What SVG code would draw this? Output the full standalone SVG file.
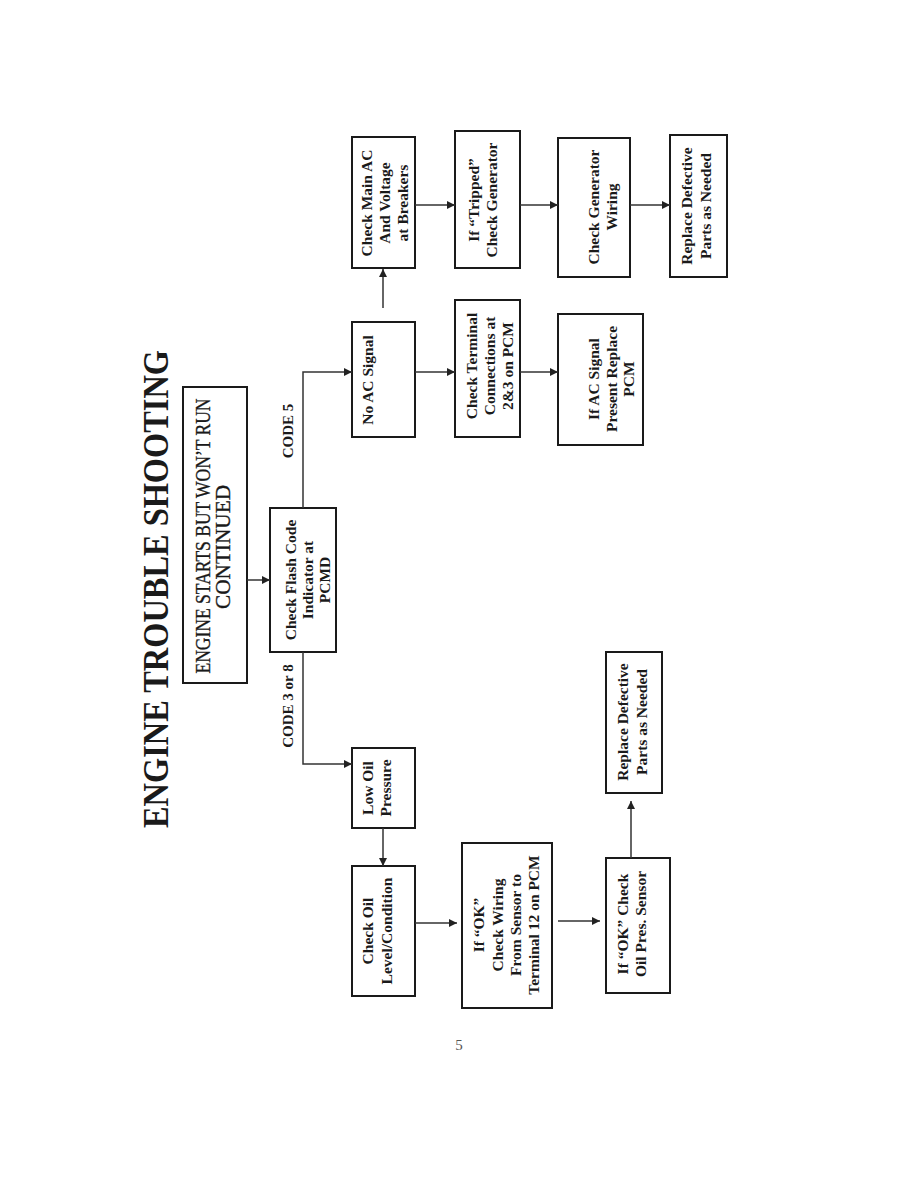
<svg xmlns="http://www.w3.org/2000/svg" width="918" height="1188" viewBox="0 0 918 1188">
<style>
.box{fill:none;stroke:#1a1a1a;stroke-width:2}
.t{font-family:"Liberation Serif","Times New Roman",serif;font-weight:bold;font-size:15.5px;fill:#1a1a1a;text-anchor:middle;dominant-baseline:central}
.lbl{font-family:"Liberation Serif","Times New Roman",serif;font-weight:bold;font-size:15px;fill:#1a1a1a;text-anchor:middle;dominant-baseline:central}
.c{fill:none;stroke:#333;stroke-width:1.5}
</style>
<defs>
<marker id="ah" viewBox="0 0 10 10" refX="10" refY="5" markerWidth="9" markerHeight="8" markerUnits="userSpaceOnUse" orient="auto">
<path d="M0,0 L10,5 L0,10 z" fill="#222"/>
</marker>
</defs>
<rect width="918" height="1188" fill="#fff"/>

<g id="title">
<text transform="translate(156,589) rotate(-90)" text-anchor="middle" dominant-baseline="central" font-family="Liberation Serif,Times New Roman,serif" font-weight="bold" font-size="35" fill="#1a1a1a" textLength="478" lengthAdjust="spacingAndGlyphs">ENGINE TROUBLE SHOOTING</text>
</g>

<g id="n-start">
<rect class="box" x="183" y="387" width="64" height="296"/>
<text transform="translate(202,536) rotate(-90)" text-anchor="middle" dominant-baseline="central" font-family="Liberation Serif,Times New Roman,serif" font-size="22" fill="#1a1a1a" stroke="#1a1a1a" stroke-width="0.35" textLength="275" lengthAdjust="spacingAndGlyphs">ENGINE STARTS BUT WON’T RUN</text>
<text transform="translate(222,547) rotate(-90)" text-anchor="middle" dominant-baseline="central" font-family="Liberation Serif,Times New Roman,serif" font-size="22" fill="#1a1a1a" stroke="#1a1a1a" stroke-width="0.35" textLength="124" lengthAdjust="spacingAndGlyphs">CONTINUED</text>
</g>

<g id="n-flash">
<rect class="box" x="270" y="508" width="66" height="144"/>
<text class="t" transform="translate(0,580) rotate(-90)"><tspan x="0" y="290">Check Flash Code</tspan><tspan x="0" y="307">Indicator at</tspan><tspan x="0" y="324">PCMD</tspan></text>
</g>

<g id="n-noac">
<rect class="box" x="352" y="322" width="63" height="115"/>
<text class="t" transform="translate(0,380) rotate(-90)"><tspan x="0" y="367">No AC Signal</tspan></text>
</g>

<g id="n-mainac">
<rect class="box" x="352" y="137" width="63" height="131"/>
<text class="t" transform="translate(0,203) rotate(-90)"><tspan x="0" y="366">Check Main AC</tspan><tspan x="0" y="384">And Voltage</tspan><tspan x="0" y="402">at Breakers</tspan></text>
</g>

<g id="n-tripped">
<rect class="box" x="455" y="131" width="65" height="137"/>
<text class="t" transform="translate(0,200) rotate(-90)"><tspan x="0" y="473">If “Tripped”</tspan><tspan x="0" y="491">Check Generator</tspan></text>
</g>

<g id="n-genwiring">
<rect class="box" x="558" y="138" width="72" height="139"/>
<text class="t" transform="translate(0,207) rotate(-90)"><tspan x="0" y="593">Check Generator</tspan><tspan x="0" y="611">Wiring</tspan></text>
</g>

<g id="n-replace1">
<rect class="box" x="670" y="135" width="57" height="142"/>
<text class="t" transform="translate(0,206) rotate(-90)"><tspan x="0" y="686">Replace Defective</tspan><tspan x="0" y="705">Parts as Needed</tspan></text>
</g>

<g id="n-terminal">
<rect class="box" x="455" y="300" width="65" height="137"/>
<text class="t" transform="translate(0,366) rotate(-90)"><tspan x="0" y="471">Check Terminal</tspan><tspan x="0" y="489">Connections at</tspan><tspan x="0" y="507">2&amp;3 on PCM</tspan></text>
</g>

<g id="n-acpresent">
<rect class="box" x="558" y="314" width="85" height="131"/>
<text class="t" transform="translate(0,379) rotate(-90)"><tspan x="0" y="593">If AC Signal</tspan><tspan x="0" y="611">Present Replace</tspan><tspan x="0" y="628">PCM</tspan></text>
</g>

<g id="n-lowoil">
<rect class="box" x="352" y="748" width="63" height="80"/>
<text class="t" transform="translate(0,788) rotate(-90)"><tspan x="0" y="367">Low Oil</tspan><tspan x="0" y="385">Pressure</tspan></text>
</g>

<g id="n-checkoil">
<rect class="box" x="352" y="866" width="63" height="130"/>
<text class="t" transform="translate(0,931) rotate(-90)"><tspan x="0" y="367">Check Oil</tspan><tspan x="0" y="386">Level/Condition</tspan></text>
</g>

<g id="n-okwiring">
<rect class="box" x="462" y="843" width="90" height="165"/>
<text class="t" transform="translate(0,925) rotate(-90)"><tspan x="0" y="478">If “OK”</tspan><tspan x="0" y="497">Check Wiring</tspan><tspan x="0" y="515">From Sensor to</tspan><tspan x="0" y="533">Terminal 12 on PCM</tspan></text>
</g>

<g id="n-oksensor">
<rect class="box" x="606" y="858" width="64" height="135"/>
<text class="t" transform="translate(0,924) rotate(-90)"><tspan x="0" y="622">If “OK” Check</tspan><tspan x="0" y="640">Oil Pres. Sensor</tspan></text>
</g>

<g id="n-replace2">
<rect class="box" x="606" y="652" width="56" height="141"/>
<text class="t" transform="translate(0,722) rotate(-90)"><tspan x="0" y="622">Replace Defective</tspan><tspan x="0" y="641">Parts as Needed</tspan></text>
</g>

<g id="connectors">
<path class="c" d="M247,580 H270" marker-end="url(#ah)"/>
<path class="c" d="M303,508 V372 H352" marker-end="url(#ah)"/>
<path class="c" d="M303,652 V764 H352" marker-end="url(#ah)"/>
<path class="c" d="M415,372 H455" marker-end="url(#ah)"/>
<path class="c" d="M520,372 H558" marker-end="url(#ah)"/>
<path class="c" d="M383,308 V269" marker-end="url(#ah)"/>
<path class="c" d="M415,205 H455" marker-end="url(#ah)"/>
<path class="c" d="M520,205 H558" marker-end="url(#ah)"/>
<path class="c" d="M630,205 H670" marker-end="url(#ah)"/>
<path class="c" d="M383,828 V866" marker-end="url(#ah)"/>
<path class="c" d="M415,923 H457" marker-end="url(#ah)"/>
<path class="c" d="M558,921 H600" marker-end="url(#ah)"/>
<path class="c" d="M631,858 V801" marker-end="url(#ah)"/>
<text class="lbl" transform="translate(288,431) rotate(-90)">CODE 5</text>
<text class="lbl" transform="translate(288,706) rotate(-90)">CODE 3 or 8</text>
</g>

<text x="459" y="1050" text-anchor="middle" font-family="Liberation Serif,Times New Roman,serif" font-size="15" fill="#555">5</text>
</svg>
